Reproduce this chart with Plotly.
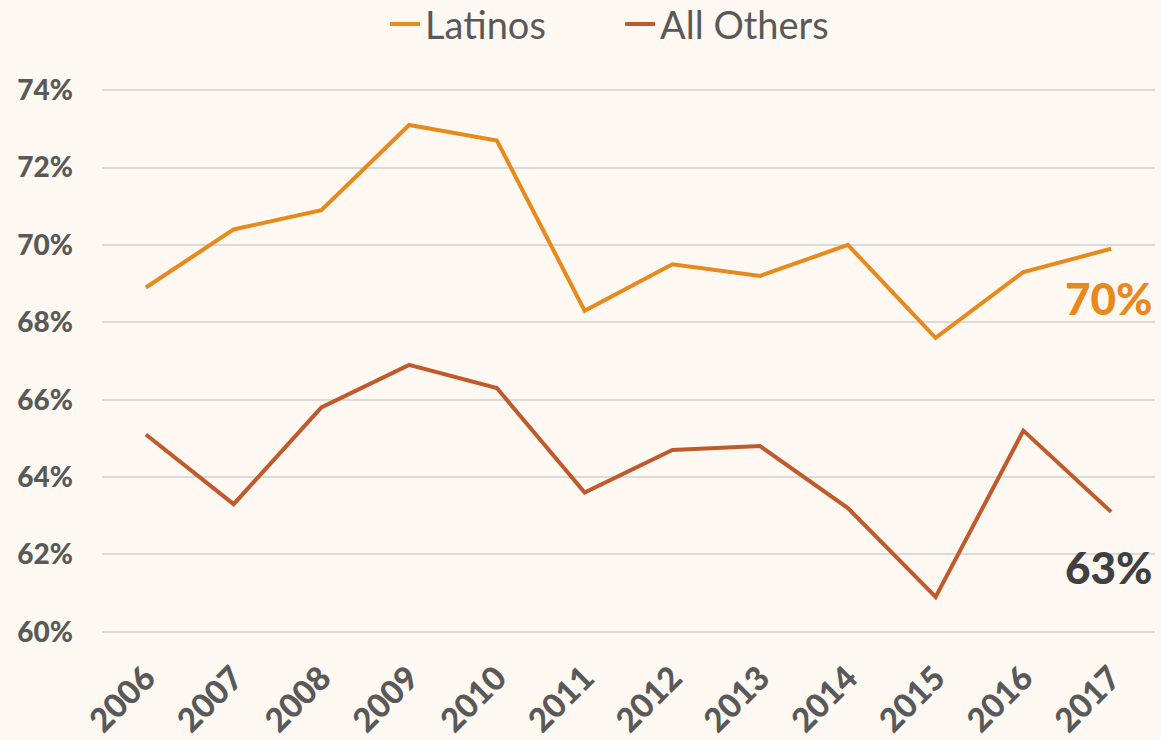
import plotly.graph_objects as go

years = ["2006", "2007", "2008", "2009", "2010", "2011",
         "2012", "2013", "2014", "2015", "2016", "2017"]
latinos = [68.9, 70.4, 70.9, 73.1, 72.7, 68.3, 69.5, 69.2, 70.0, 67.6, 69.3, 69.9]
all_others = [65.1, 63.3, 65.8, 66.9, 66.3, 63.6, 64.7, 64.8, 63.2, 60.9, 65.2, 63.1]
y_ticks = [60, 62, 64, 66, 68, 70, 72, 74]

ORANGE = "#E8891B"
RUST = "#C0592B"
BG = "#FDF8F2"
GREY = "#595959"
FONT = "Lato"

fig = go.Figure()
fig.add_trace(go.Scatter(x=years, y=latinos, mode="lines", name="Latinos",
                         line=dict(color=ORANGE, width=4)))
fig.add_trace(go.Scatter(x=years, y=all_others, mode="lines", name="All Others",
                         line=dict(color=RUST, width=4)))

# End-of-line value callouts (x given as category index)
last = len(years) - 1
fig.add_annotation(x=last, y=latinos[-1], text=f"{round(latinos[-1])}%",
                   showarrow=False, xanchor="right", yanchor="middle",
                   xshift=43, yshift=-49,
                   font=dict(family=FONT, size=44, color=ORANGE, weight=900))
fig.add_annotation(x=last, y=all_others[-1], text=f"{round(all_others[-1])}%",
                   showarrow=False, xanchor="right", yanchor="middle",
                   xshift=43, yshift=-55,
                   font=dict(family=FONT, size=44, color="#404040", weight=900))

fig.update_layout(
    width=1161, height=740,
    paper_bgcolor=BG, plot_bgcolor=BG,
    margin=dict(l=102, r=6, t=89, b=107, autoexpand=False),
    font=dict(family=FONT, color=GREY),
    showlegend=True,
    legend=dict(orientation="h", x=0.492, xanchor="center", y=1.177, yanchor="top",
                font=dict(family=FONT, size=38, color=GREY),
                entrywidth=190, bgcolor="rgba(0,0,0,0)"),
    xaxis=dict(type="category", range=[-0.5, len(years) - 0.5],
               showgrid=False, showline=False, ticks="", tickangle=-45,
               ticklabelstandoff=18,
               tickfont=dict(family=FONT, size=33, color=GREY, weight=900)),
    yaxis=dict(range=[59.97, 74.03], tickvals=y_ticks,
               ticktext=[f"{v}%" for v in y_ticks],
               showgrid=True, gridcolor="#DCDAD6", gridwidth=2,
               zeroline=False, showline=False, ticks="",
               ticklabelstandoff=28,
               tickfont=dict(family=FONT, size=28, color=GREY, weight=900)),
)

fig.write_html("out.html")
